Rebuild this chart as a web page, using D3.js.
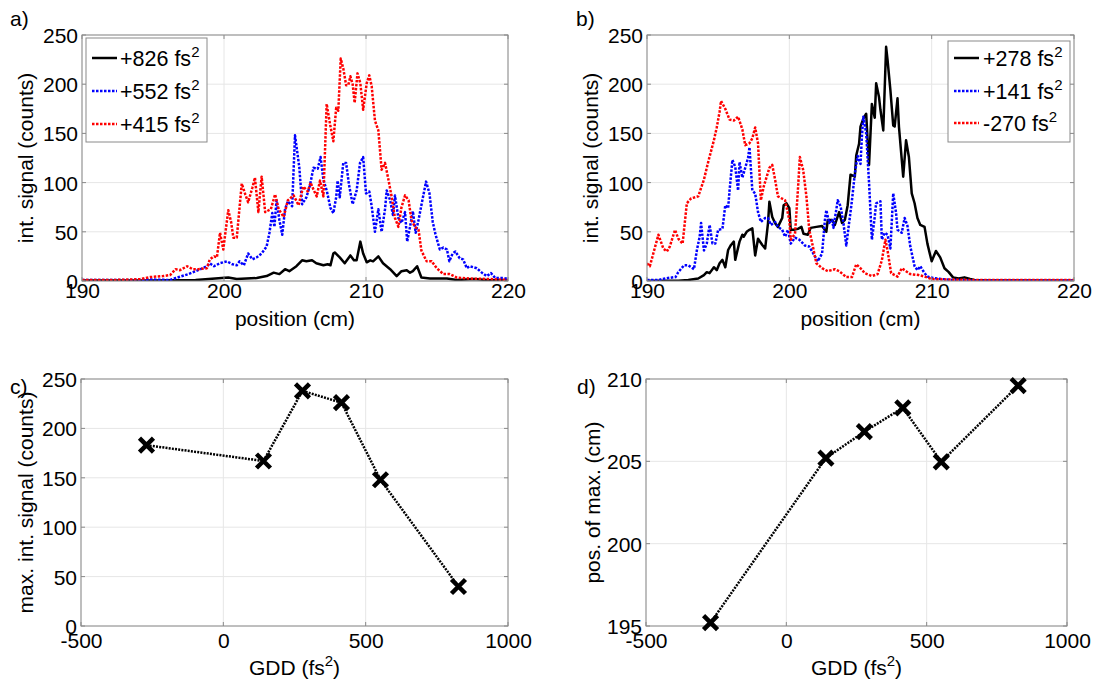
<!DOCTYPE html>
<html>
<head>
<meta charset="utf-8">
<script src="https://cdn.jsdelivr.net/npm/d3@7"></script>
<style>
  body { margin: 0; background: #fff; }
  svg text { font-family: "Liberation Sans", Arial, Helvetica, sans-serif; fill: #000; }
</style>
</head>
<body>
<svg id="fig" width="1099" height="682"></svg>
<script>
// ---------- data ----------
// panel a: integrated signal vs. position, [position (cm), counts]
const sigA826 = [[190,0.5],[195,0.5],[198,1],[200.3,3.5],[200.9,2],[202.3,3],[203.0,5],[203.5,8.5],[203.9,7],[204.3,12],[204.6,10],[205.1,15],[205.5,21],[205.8,20],[206.2,21],[206.5,18],[207.0,16],[207.3,17],[207.5,16],[207.7,28],[207.8,29],[208.15,24],[208.5,18],[208.9,26],[209.15,21],[209.34,21],[209.6,40],[209.8,28],[210.05,19],[210.3,21],[210.5,20],[210.87,25],[211.2,18],[211.7,12],[212.16,5],[212.5,10],[212.87,11],[213.1,8.5],[213.3,10],[213.6,15],[213.9,3.5],[214.5,2.5],[215.7,2.5],[216.4,1],[217.6,2],[218.5,1],[220,0.5]];
const sigA552 = [[190,1],[193,1],[195,1.5],[196.2,1],[196.6,3],[197.5,7],[198,10],[198.5,13],[198.8,15],[199.0,18],[199.3,15],[199.7,18],[200.2,20],[200.6,17],[200.9,16],[201.1,20],[201.4,16],[201.7,28],[202.0,22],[202.3,24],[202.65,28],[203.0,35],[203.2,49],[203.4,69],[203.55,55],[203.7,82],[203.9,62],[204.1,47],[204.3,73],[204.5,81],[204.8,76],[205.0,148],[205.3,116],[205.5,78],[205.8,85],[206.05,97],[206.3,115],[206.6,114],[206.8,126],[207.0,103],[207.25,91],[207.5,74],[207.7,69],[207.9,85],[208.0,102],[208.15,85],[208.4,120],[208.6,120],[208.8,98],[209.06,78],[209.34,92],[209.58,120],[209.8,126],[210.0,89],[210.23,91],[210.4,76],[210.63,50],[210.87,73],[211.1,50],[211.34,73],[211.46,92],[211.7,82],[211.9,67],[212.04,87],[212.28,64],[212.5,59],[212.75,70],[212.9,40],[213.1,55],[213.3,71],[213.5,49],[213.7,62],[213.9,77],[214.23,101],[214.47,89],[214.7,60],[214.9,47],[215.2,32],[215.45,34],[215.7,32],[215.87,20],[216.1,28],[216.3,30],[216.6,23],[216.84,22],[217.1,13],[217.3,15],[217.8,13],[218.2,8],[218.5,5],[218.8,8],[219.1,3],[219.7,3],[220,2]];
const sigA415 = [[190,1],[192,1],[193.5,1.5],[194.1,2],[194.8,4],[195.7,5],[196.2,6],[196.6,12],[196.9,11],[197.4,15],[197.8,12],[198.2,12],[198.8,13],[199.0,22],[199.3,25],[199.5,24],[199.72,49],[199.95,32],[200.3,72],[200.5,60],[200.66,44],[200.9,44],[201.25,99],[201.5,88],[201.7,80],[202.0,95],[202.18,105],[202.42,70],[202.65,106],[202.9,70],[203.3,73],[203.6,88],[203.85,73],[204.2,65],[204.5,82],[204.9,87],[205.25,77],[205.58,96],[205.9,91],[206.1,100],[206.3,93],[206.53,86],[206.76,102],[207.0,86],[207.23,180],[207.46,160],[207.7,142],[207.9,176],[208.05,173],[208.22,226],[208.4,216],[208.6,199],[208.75,199],[208.9,208],[209.06,200],[209.2,181],[209.4,211],[209.6,201],[209.8,174],[210.05,201],[210.23,209],[210.4,198],[210.63,163],[210.87,153],[211.1,113],[211.34,120],[211.58,103],[211.8,86],[212.04,64],[212.28,55],[212.5,75],[212.75,87],[213.0,82],[213.2,62],[213.45,55],[213.7,52],[213.9,31],[214.27,20],[214.62,20],[214.98,13],[215.45,7],[215.9,7],[216.4,3.5],[217.3,2.5],[218.7,2],[220,1]];

// panel b: integrated signal vs. position, [position (cm), counts]
const sigB278 = [[190,0.3],[192.2,0.3],[192.9,1],[193.6,2.5],[194.0,6],[194.2,9],[194.4,8],[194.7,14],[194.9,11],[195.1,18],[195.3,21.5],[195.5,14],[195.7,31.5],[195.9,36.6],[196.1,40],[196.2,21.5],[196.5,40],[196.7,47],[196.8,45],[197.0,50],[197.2,52],[197.4,53.5],[197.6,26],[197.8,43],[198.1,36.6],[198.3,33],[198.5,58.6],[198.6,80.6],[198.8,65],[199.0,58.6],[199.2,55],[199.5,64],[199.6,77],[199.8,79],[200.0,74],[200.1,52],[200.3,52],[200.6,53],[200.85,55],[201.0,48],[201.3,47],[201.5,54],[201.9,55],[202.3,56],[202.6,50],[202.7,62],[203.0,62],[203.2,57],[203.5,70],[203.7,59],[203.9,62],[204.1,77],[204.3,108],[204.6,106],[204.7,127.5],[204.9,139.5],[205.0,156.8],[205.2,165],[205.4,170],[205.5,143],[205.6,118],[205.8,180],[206.0,166],[206.1,201],[206.3,187],[206.4,174],[206.6,153],[206.8,238],[206.9,224.6],[207.1,194],[207.3,158],[207.4,157],[207.6,185.7],[207.7,157],[207.9,123],[208.0,106],[208.2,143],[208.4,126],[208.6,89],[208.8,79],[209.0,64],[209.2,57],[209.5,55],[209.7,38],[210.0,20],[210.3,30.5],[210.6,24],[210.9,13],[211.2,9],[211.5,3.7],[211.9,2.6],[212.3,3.7],[212.7,2],[213.0,1],[214,0.5],[220,0.3]];
const sigB141 = [[190,1],[190.8,1],[191.3,2.7],[192,4],[192.2,9],[192.6,16],[192.9,16],[193.3,12],[193.5,31],[193.7,45],[193.8,59],[194.0,31],[194.2,38],[194.4,57],[194.6,38],[194.8,38],[195.0,52],[195.3,53],[195.5,77],[195.7,74],[195.8,92],[196.0,123],[196.2,116],[196.4,92],[196.5,121],[196.7,105],[196.9,115],[197.1,125],[197.2,136],[197.4,92],[197.6,89],[197.8,70],[198.0,60],[198.3,64],[198.5,64],[198.7,57],[199.0,60],[199.2,55],[199.5,52],[199.7,45],[199.9,52],[200.1,38],[200.4,44],[200.7,42],[201.1,36],[201.4,35],[201.8,25],[202.0,20],[202.3,28],[202.5,62],[202.6,72],[202.8,59],[203.0,62],[203.1,54],[203.4,82],[203.6,76],[203.8,59],[204.0,36],[204.2,59],[204.4,82],[204.6,109],[204.8,127],[205.0,119],[205.1,147],[205.2,167],[205.4,150],[205.6,100],[205.8,42],[206.0,65],[206.1,79],[206.4,81],[206.5,42],[206.7,49],[206.9,47],[207.1,33],[207.3,89],[207.5,69],[207.6,52],[207.9,49],[208.1,64],[208.3,56],[208.5,35],[208.8,15],[209.0,11],[209.2,15],[209.5,8],[209.7,4.5],[210.1,3],[210.7,2],[211.6,1],[213,0.5],[220,0.5]];
const sigBm270 = [[190,18],[190.2,15],[190.8,47],[191.15,33],[191.4,30],[191.6,35],[191.97,52],[192.2,43],[192.5,38],[192.8,79],[193.1,84],[193.6,86],[194.0,103],[194.3,121],[194.7,143],[194.9,156],[195.1,172],[195.2,183],[195.5,175],[195.8,164],[196.1,163],[196.4,167],[196.7,154],[196.9,138],[197.2,140],[197.4,145],[197.6,156],[197.8,140],[198.0,82],[198.2,96],[198.6,115],[198.8,118],[199.0,103],[199.2,86],[199.7,82],[200.0,62],[200.1,42],[200.4,48],[200.6,92],[200.74,126],[200.97,113],[201.2,86],[201.4,52],[201.7,32],[201.9,18],[202.3,13],[202.7,10],[203.2,12],[203.5,10],[204.0,4],[204.4,4],[204.7,17],[205.0,13],[205.3,8],[205.8,5],[206.2,7],[206.5,21],[206.75,42],[206.9,31],[207.15,8],[207.6,4.5],[207.9,13],[208.2,10],[208.5,7],[209.1,6],[209.5,4.5],[210,2],[211,1.5],[213,1],[216,1],[220,1]];

// panels c, d: summary per GDD setting
const gdd       = [-270, 141, 278, 415, 552, 826];
const maxSignal = [183, 167, 238, 226, 148, 40];
const posOfMax  = [195.2, 205.2, 206.8, 208.25, 204.97, 209.6];

// tick values
const positionTicks = [190, 200, 210, 220];
const signalTicks   = [0, 50, 100, 150, 200, 250];
const gddTicks      = [-500, 0, 500, 1000];
const posMaxTicks   = [195, 200, 205, 210];

// ---------- drawing ----------
const FONT = '"Liberation Sans", Arial, Helvetica, sans-serif';
const svg = d3.select("#fig");
const plainNumber = d => String(d);   // ASCII hyphen for negatives
let clipId = 0;

function supText(sel, base, sup, tail) {
  sel.append("tspan").text(base);
  sel.append("tspan").attr("font-size", 15).attr("dy", -9).text(sup);
  if (tail) sel.append("tspan").attr("font-size", 21).attr("dy", 9).text(tail);
}

function drawPanel(cfg) {
  const b = cfg.box;
  const g = svg.append("g");
  const x = d3.scaleLinear().domain(cfg.xDomain).range([b.x0, b.x1]);
  const y = d3.scaleLinear().domain(cfg.yDomain).range([b.y1, b.y0]);

  // grid
  g.append("g").selectAll("line").data(cfg.xTicks).join("line")
    .attr("x1", d => x(d)).attr("x2", d => x(d)).attr("y1", b.y0).attr("y2", b.y1)
    .attr("stroke", "#e6e6e6").attr("stroke-width", 1);
  g.append("g").selectAll("line").data(cfg.yTicks).join("line")
    .attr("y1", d => y(d)).attr("y2", d => y(d)).attr("x1", b.x0).attr("x2", b.x1)
    .attr("stroke", "#e6e6e6").attr("stroke-width", 1);

  // tick labels
  const xa = g.append("g").attr("transform", `translate(0,${b.y1})`)
    .call(d3.axisBottom(x).tickValues(cfg.xTicks).tickSize(0).tickPadding(cfg.xPad).tickFormat(plainNumber));
  xa.select(".domain").remove();
  xa.attr("font-size", 21).attr("font-family", FONT);
  xa.selectAll("text").attr("fill", "#000");

  const ya = g.append("g").attr("transform", `translate(${b.x0},0)`)
    .call(d3.axisLeft(y).tickValues(cfg.yTicks).tickSize(0).tickPadding(4).tickFormat(plainNumber));
  ya.select(".domain").remove();
  ya.attr("font-size", 21).attr("font-family", FONT);
  ya.selectAll("text").attr("fill", "#000").attr("dy", "0.36em");

  // axis titles
  const xt = g.append("text").attr("x", (b.x0 + b.x1) / 2).attr("y", cfg.xTitleY)
    .attr("text-anchor", "middle").attr("font-size", 21);
  if (cfg.xTitleSup) supText(xt, cfg.xTitle, "2", ")"); else xt.text(cfg.xTitle);

  g.append("text").attr("transform", `translate(${cfg.yTitleX},${(b.y0 + b.y1) / 2}) rotate(-90)`)
    .attr("text-anchor", "middle").attr("font-size", 21).text(cfg.yTitle);

  g.append("text").attr("x", cfg.tagX).attr("y", cfg.tagY).attr("font-size", 21).text(cfg.tag);

  // clip region for the data
  const id = "clip" + (clipId++);
  g.append("clipPath").attr("id", id).append("rect")
    .attr("x", b.x0).attr("y", b.y0).attr("width", b.x1 - b.x0).attr("height", b.y1 - b.y0);
  const plot = g.append("g").attr("clip-path", `url(#${id})`);

  // frame and inward ticks
  g.append("rect").attr("x", b.x0).attr("y", b.y0).attr("width", b.x1 - b.x0).attr("height", b.y1 - b.y0)
    .attr("fill", "none").attr("stroke", "#8a8a8a").attr("stroke-width", 1);
  const tk = g.append("g").attr("stroke", "#8a8a8a").attr("stroke-width", 1);
  cfg.xTicks.forEach(t => {
    tk.append("line").attr("x1", x(t)).attr("x2", x(t)).attr("y1", b.y1).attr("y2", b.y1 - 4);
    tk.append("line").attr("x1", x(t)).attr("x2", x(t)).attr("y1", b.y0).attr("y2", b.y0 + 4);
  });
  cfg.yTicks.forEach(t => {
    tk.append("line").attr("y1", y(t)).attr("y2", y(t)).attr("x1", b.x0).attr("x2", b.x0 + 4);
    tk.append("line").attr("y1", y(t)).attr("y2", y(t)).attr("x1", b.x1).attr("x2", b.x1 - 4);
  });

  // unclipped layer for markers
  const over = g.append("g");
  return { g, plot, over, x, y };
}

const STYLES = {
  black: { color: "#000000", dash: null },
  blue:  { color: "#0000ff", dash: "2.5,1.5" },
  red:   { color: "#ff0000", dash: "2.5,1.5" }
};

function drawSeries(p, data, style) {
  const line = d3.line().x(d => p.x(d[0])).y(d => p.y(d[1]));
  p.plot.append("path").datum(data).attr("d", line)
    .attr("fill", "none").attr("stroke", style.color).attr("stroke-width", 2.5)
    .attr("stroke-linejoin", "round")
    .attr("stroke-dasharray", style.dash);
}

function drawLegend(p, lg) {
  const g = p.g.append("g");
  g.append("rect").attr("x", lg.x0).attr("y", lg.y0).attr("width", lg.x1 - lg.x0).attr("height", lg.y1 - lg.y0)
    .attr("fill", "#fff").attr("stroke", "#8a8a8a").attr("stroke-width", 1);
  lg.entries.forEach((e, i) => {
    const ry = lg.rows[i];
    g.append("line").attr("x1", lg.sx0).attr("x2", lg.sx1).attr("y1", ry).attr("y2", ry)
      .attr("stroke", e.style.color).attr("stroke-width", 2.5).attr("stroke-dasharray", e.style.dash);
    const t = g.append("text").attr("x", lg.tx).attr("y", ry + 7.5).attr("font-size", 21.5);
    supText(t, e.label + " fs", "2", null);
  });
}

// panel a
const pa = drawPanel({
  box: { x0: 82, x1: 508, y0: 35, y1: 281 },
  xDomain: [190, 220], yDomain: [0, 250], xTicks: positionTicks, yTicks: signalTicks,
  xPad: 2, xTitle: "position (cm)", xTitleY: 326, yTitle: "int. signal (counts)", yTitleX: 33,
  tag: "a)", tagX: 10, tagY: 26
});
drawSeries(pa, sigA826, STYLES.black);
drawSeries(pa, sigA552, STYLES.blue);
drawSeries(pa, sigA415, STYLES.red);
drawLegend(pa, {
  x0: 86, x1: 207, y0: 38, y1: 142, sx0: 92, sx1: 117, tx: 120, rows: [58, 91, 124],
  entries: [
    { label: "+826", style: STYLES.black },
    { label: "+552", style: STYLES.blue },
    { label: "+415", style: STYLES.red }
  ]
});

// panel b
const pb = drawPanel({
  box: { x0: 647, x1: 1074, y0: 35, y1: 281 },
  xDomain: [190, 220], yDomain: [0, 250], xTicks: positionTicks, yTicks: signalTicks,
  xPad: 2, xTitle: "position (cm)", xTitleY: 326, yTitle: "int. signal (counts)", yTitleX: 598,
  tag: "b)", tagX: 576, tagY: 26
});
drawSeries(pb, sigB278, STYLES.black);
drawSeries(pb, sigB141, STYLES.blue);
drawSeries(pb, sigBm270, STYLES.red);
drawLegend(pb, {
  x0: 948, x1: 1070, y0: 41, y1: 142, sx0: 954, sx1: 979, tx: 983, rows: [58, 91, 123],
  entries: [
    { label: "+278", style: STYLES.black },
    { label: "+141", style: STYLES.blue },
    { label: "-270", style: STYLES.red }
  ]
});

// panels c and d: summary with dotted connecting line and cross markers
function drawSummary(p, values) {
  const pts = gdd.map((gv, i) => [gv, values[i]]).sort((a, b) => a[0] - b[0]);
  const line = d3.line().x(d => p.x(d[0])).y(d => p.y(d[1]));
  p.plot.append("path").datum(pts).attr("d", line).attr("fill", "none")
    .attr("stroke", "#000").attr("stroke-width", 2.5).attr("stroke-dasharray", "2,1.2");
  p.over.selectAll("path.mk").data(pts).join("path").attr("class", "mk")
    .attr("transform", d => `translate(${p.x(d[0])},${p.y(d[1])})`)
    .attr("d", "M-7,-7L7,7M-7,7L7,-7")
    .attr("stroke", "#000").attr("stroke-width", 4.5).attr("fill", "none");
}

const pc = drawPanel({
  box: { x0: 81, x1: 508, y0: 379, y1: 626 },
  xDomain: [-500, 1000], yDomain: [0, 250], xTicks: gddTicks, yTicks: signalTicks,
  xPad: 7, xTitle: "GDD (fs", xTitleSup: true, xTitleY: 675, yTitle: "max. int. signal (counts)", yTitleX: 33,
  tag: "c)", tagX: 10, tagY: 394
});
drawSummary(pc, maxSignal);

const pd = drawPanel({
  box: { x0: 646, x1: 1067, y0: 379, y1: 626 },
  xDomain: [-500, 1000], yDomain: [195, 210], xTicks: gddTicks, yTicks: posMaxTicks,
  xPad: 7, xTitle: "GDD (fs", xTitleSup: true, xTitleY: 675, yTitle: "pos. of max. (cm)", yTitleX: 600,
  tag: "d)", tagX: 577, tagY: 394
});
drawSummary(pd, posOfMax);
</script>
</body>
</html>
